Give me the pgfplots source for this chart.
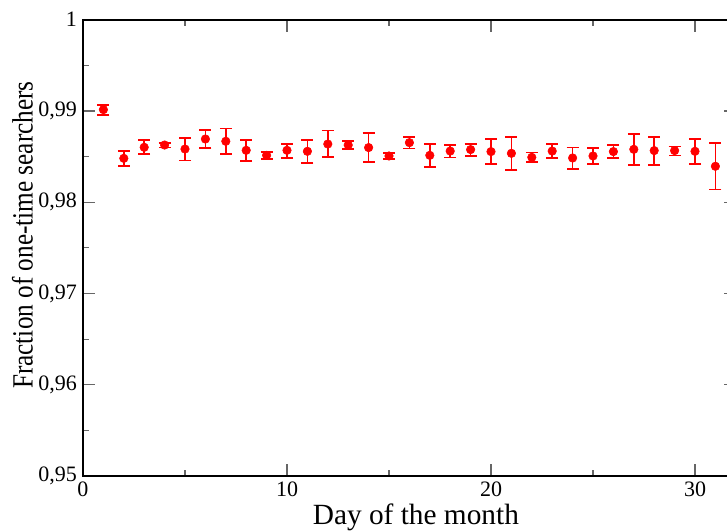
\documentclass[border=0pt]{standalone}
\usepackage{fontspec}
\setmainfont{Liberation Serif}
\usepackage{pgfplots}
\usepackage{pgfplotstable}
\pgfplotsset{compat=1.18}

% day, fraction, error up, error down
\pgfplotstableread{
x  y       ep      em
1  0.99015 0.00051 0.00062
2  0.98481 0.00080 0.00084
3  0.98602 0.00080 0.00077
4  0.98627 0.00026 0.00028
5  0.98583 0.00121 0.00127
6  0.98693 0.00099 0.00102
7  0.98668 0.00139 0.00143
8  0.98569 0.00113 0.00117
9  0.98514 0.00036 0.00044
10 0.98569 0.00073 0.00084
11 0.98558 0.00128 0.00131
12 0.98638 0.00147 0.00146
13 0.98627 0.00044 0.00047
14 0.98599 0.00160 0.00162
15 0.98507 0.00032 0.00037
16 0.98653 0.00062 0.00065
17 0.98514 0.00124 0.00128
18 0.98561 0.00063 0.00072
19 0.98577 0.00058 0.00074
20 0.98555 0.00142 0.00139
21 0.98536 0.00179 0.00183
22 0.98492 0.00052 0.00054
23 0.98561 0.00074 0.00080
24 0.98485 0.00114 0.00117
25 0.98507 0.00084 0.00088
26 0.98555 0.00069 0.00070
27 0.98580 0.00168 0.00175
28 0.98566 0.00149 0.00154
29 0.98566 0.00044 0.00055
30 0.98558 0.00135 0.00135
31 0.98394 0.00255 0.00253
}\data

\begin{document}
\begin{tikzpicture}
\begin{axis}[
  name=ax,
  scale only axis,
  width=489.6pt, height=342.2pt,
  xmin=0, xmax=32,
  ymin=0.95, ymax=1,
  xtick={0,10,20,30},
  xticklabels={0,10,20,30},
  minor x tick num=1,
  ytick={0.95,0.96,0.97,0.98,0.99,1},
  yticklabels={{0,95},{0,96},{0,97},{0,98},{0,99},{1}},
  minor y tick num=1,
  tick align=inside,
  major tick length=9pt,
  minor tick length=4.5pt,
  axis line style={black, line width=1.5pt},
  tick style={black!60, line width=0.9pt},
  ticklabel style={font=\fontsize{16.5}{18}\selectfont},
  xticklabel style={yshift=-1pt},
  yticklabel style={xshift=-1pt},
  xlabel={Day of the month},
  ylabel={\scalebox{0.86}[1]{Fraction of one-time searchers}},
  label style={font=\fontsize{22}{26}\selectfont},
  xlabel style={at={(axis description cs:0.51,0)}, anchor=base, yshift=-36pt},
  ylabel style={at={(axis description cs:-0.077,0.528)}, anchor=base},
  clip=false,
]
\addplot[only marks, color=red, mark=*, mark size=3.2pt,
  error bars/.cd, y dir=both, y explicit,
  error bar style={color=red, line width=1.3pt},
  error mark options={rotate=90, color=red, mark size=4.5pt, line width=1.3pt}]
  table[x=x, y=y, y error plus=ep, y error minus=em] {\data};
\end{axis}
\pgfresetboundingbox
\path[use as bounding box] (ax.south west) ++(-62.25pt,-41.25pt) rectangle ++(545.25pt,398.25pt);
\end{tikzpicture}
\end{document}
